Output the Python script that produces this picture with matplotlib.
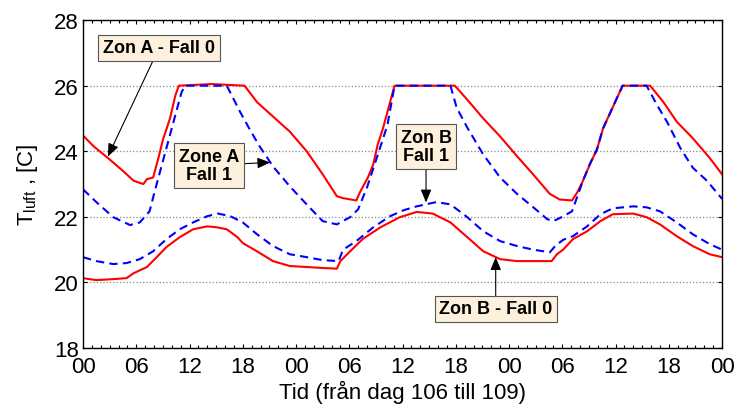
import matplotlib.pyplot as plt
from matplotlib.ticker import MultipleLocator, FixedLocator

plt.rcParams['font.family'] = ['Liberation Sans', 'DejaVu Sans']

# Timmar från start av dag 106 och lufttemperatur [C]
tim_a0 = [0, 1.2, 3.0, 4.5, 5.7, 6.8, 7.2, 7.9, 8.5, 9.0, 9.8, 10.4, 10.8, 14.5, 18.2,
          19.6, 21.4, 23.3, 25.2, 27.0, 28.6, 29.3, 30.8, 31.2, 32.1, 32.7, 33.2, 33.8,
          34.4, 35.1, 41.9, 43.3, 45.1, 47.0, 48.9, 50.7, 52.6, 53.7, 55.1, 55.7, 56.3,
          57.1, 57.9, 58.6, 59.7, 60.8, 63.9, 65.4, 66.9, 68.7, 70.6, 72]
zon_a0 = [24.48, 24.15, 23.75, 23.4, 23.1, 23.0, 23.15, 23.2, 23.8, 24.35, 25.0, 25.7, 26.0,
          26.05, 26.0, 25.5, 25.06, 24.6, 24.0, 23.3, 22.63, 22.57, 22.5, 22.75, 23.2, 23.6,
          24.2, 24.7, 25.3, 26.0, 26.0, 25.57, 25.0, 24.45, 23.85, 23.3, 22.7, 22.53, 22.5,
          22.75, 23.08, 23.6, 24.05, 24.7, 25.35, 26.0, 26.0, 25.5, 24.9, 24.4, 23.8, 23.3]

tim_a1 = [0, 1.5, 3.4, 5.3, 6.4, 7.5, 8.1, 8.9, 9.6, 10.4, 11.1, 11.5, 16.2, 17.7, 18.8,
          19.9, 21.4, 23.3, 25.2, 27.0, 28.6, 30.1, 31.0, 32.0, 33.1, 34.3, 35.1, 41.4,
          42.1, 43.3, 45.1, 47.0, 48.9, 50.7, 52.3, 53.0, 54.0, 55.1, 55.8, 56.3, 57.1,
          57.9, 58.6, 59.7, 60.8, 63.5, 64.7, 65.8, 67.3, 68.7, 70.3, 72]
zon_a1 = [22.84, 22.45, 21.99, 21.75, 21.83, 22.17, 22.8, 23.6, 24.3, 25.1, 25.8, 26.0, 26.0,
          25.2, 24.66, 24.15, 23.54, 22.93, 22.38, 21.87, 21.77, 21.99, 22.23, 22.9, 23.8,
          24.8, 26.0, 26.0, 25.33, 24.72, 23.9, 23.2, 22.7, 22.3, 21.93, 21.87, 22.0, 22.17,
          22.7, 23.08, 23.6, 24.05, 24.7, 25.35, 26.0, 26.0, 25.4, 24.9, 24.1, 23.5, 23.1, 22.55]

tim_b0 = [0, 1.5, 3.4, 4.9, 5.7, 7.2, 8.3, 9.4, 10.9, 12.4, 14.0, 15.1, 16.2, 17.4, 18.0,
          19.6, 21.4, 23.3, 25.2, 27.0, 28.6, 29.0, 30.1, 31.5, 33.5, 35.7, 37.6, 39.4,
          41.4, 43.3, 45.1, 47.0, 48.9, 50.7, 52.8, 53.4, 54.1, 55.2, 56.8, 58.3, 59.7,
          62.0, 63.5, 65.0, 66.9, 68.7, 70.6, 72]
zon_b0 = [20.13, 20.07, 20.1, 20.13, 20.28, 20.47, 20.77, 21.08, 21.38, 21.62, 21.71, 21.68,
          21.62, 21.38, 21.2, 20.95, 20.65, 20.5, 20.47, 20.44, 20.42, 20.65, 20.95, 21.32,
          21.68, 21.99, 22.15, 22.1, 21.83, 21.38, 20.95, 20.71, 20.65, 20.65, 20.65, 20.86,
          21.0, 21.32, 21.56, 21.87, 22.08, 22.1, 21.99, 21.77, 21.41, 21.11, 20.86, 20.77]

tim_b1 = [0, 1.5, 3.4, 4.9, 6.4, 7.9, 9.4, 10.9, 12.4, 14.0, 15.2, 16.6, 18.0, 19.6, 21.4,
          23.3, 25.2, 27.0, 28.8, 29.3, 30.8, 32.7, 34.6, 36.1, 37.6, 39.8, 41.4, 43.3,
          45.1, 47.0, 48.9, 50.7, 52.6, 53.2, 54.1, 55.2, 56.8, 58.3, 59.7, 62.0, 63.5,
          65.0, 66.9, 68.7, 70.6, 72]
zon_b1 = [20.77, 20.65, 20.56, 20.59, 20.71, 20.95, 21.32, 21.62, 21.83, 22.02, 22.1, 22.02,
          21.83, 21.47, 21.11, 20.86, 20.77, 20.68, 20.65, 21.0, 21.26, 21.68, 22.02, 22.2,
          22.32, 22.45, 22.38, 21.99, 21.56, 21.26, 21.11, 21.0, 20.92, 21.11, 21.3, 21.41,
          21.71, 22.08, 22.26, 22.32, 22.29, 22.17, 21.83, 21.47, 21.17, 21.0]

xtick_txt = ['00', '06', '12', '18', '00', '06', '12', '18', '00', '06', '12', '18', '00']

fig = plt.figure(figsize=(7.36, 4.06), dpi=100)
ax = fig.add_axes([0.1128, 0.1404, 0.8682, 0.8076])

rod = '#ff0000'
bla = '#0000ff'
ax.plot(tim_a0, zon_a0, color=rod, lw=1.5)
ax.plot(tim_a1, zon_a1, color=bla, lw=1.5, ls=(0, (4, 2.5)))
ax.plot(tim_b0, zon_b0, color=rod, lw=1.5)
ax.plot(tim_b1, zon_b1, color=bla, lw=1.5, ls=(0, (4, 2.5)))

ax.set_xlim(0, 72)
ax.set_ylim(18, 28)
ax.xaxis.set_major_locator(FixedLocator(range(0, 73, 6)))
ax.set_xticklabels(xtick_txt)
ax.xaxis.set_minor_locator(MultipleLocator(1))
ax.yaxis.set_major_locator(MultipleLocator(2))
ax.tick_params(which='both', direction='in', top=True, right=True, labelsize=16, width=0.8)
ax.tick_params(which='major', length=3)
ax.tick_params(which='minor', length=2.5)
ax.tick_params(axis='x', pad=6)
ax.tick_params(axis='y', pad=3)
ax.grid(True, axis='y', color='#888888', ls=':', lw=0.9)
for sp in ax.spines.values():
    sp.set_linewidth(1.0)

ax.set_xlabel('Tid (från dag 106 till 109)', fontsize=16, labelpad=2)
ax.set_ylabel(r'T$_{\mathregular{luft}}$ , [C]', fontsize=16, labelpad=10)

# Etiketter med pilar
ruta = dict(boxstyle='square,pad=0.25', fc='#fdf0dc', ec='#555555', lw=0.8)
pil = dict(arrowstyle='-|>,head_length=0.6,head_width=0.25', color='black', lw=0.8,
           shrinkA=0, shrinkB=0)
ax.annotate('Zon A - Fall 0', xy=(2.8, 23.84), xytext=(8.56, 27.15), ha='center', va='center',
            fontsize=13, fontweight='bold', bbox=ruta, arrowprops=pil)
ax.annotate('Zone A\nFall 1', xy=(21.1, 23.66), xytext=(14.2, 23.57), ha='center', va='center',
            fontsize=13, fontweight='bold', bbox=ruta, arrowprops=pil, linespacing=1.1)
ax.annotate('Zon B\nFall 1', xy=(38.65, 22.44), xytext=(38.65, 24.15), ha='center', va='center',
            fontsize=13, fontweight='bold', bbox=ruta, arrowprops=pil, linespacing=1.1)
ax.annotate('Zon B - Fall 0', xy=(46.5, 20.77), xytext=(46.5, 19.19), ha='center', va='center',
            fontsize=13, fontweight='bold', bbox=ruta, arrowprops=pil)

fig.savefig('out.png', dpi=100)
